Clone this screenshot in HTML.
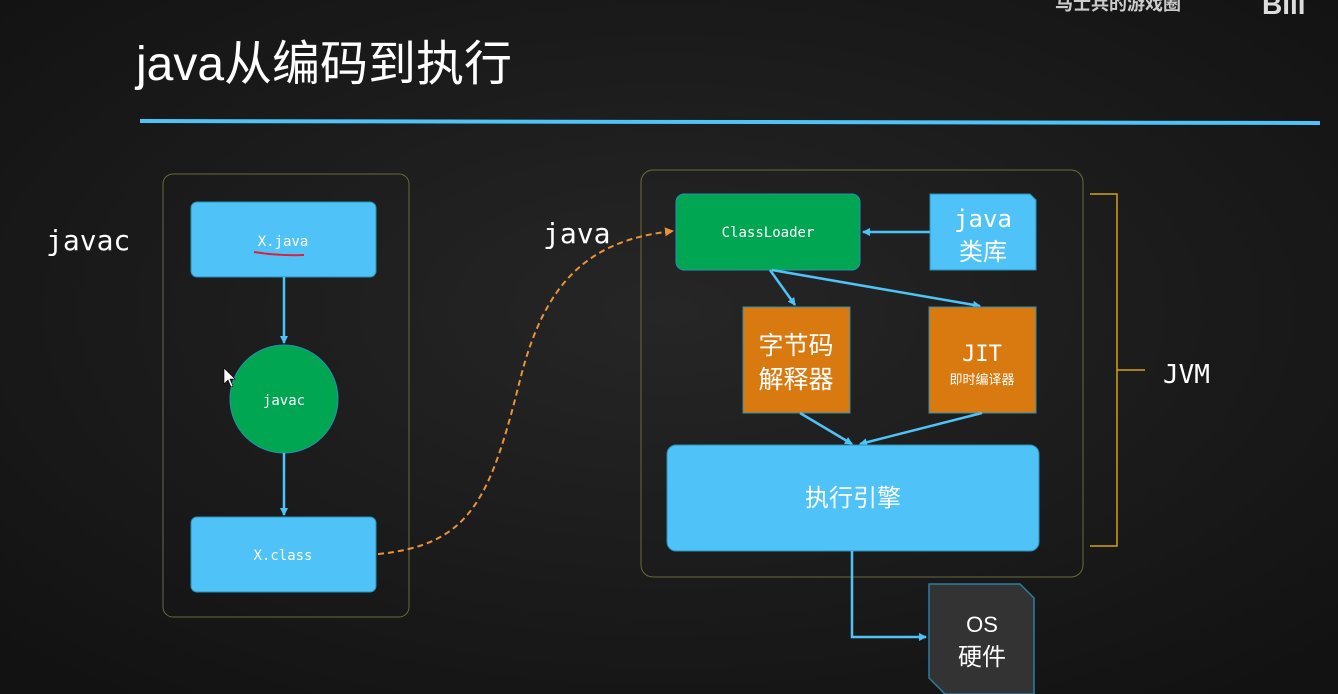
<!DOCTYPE html>
<html><head><meta charset="utf-8"><style>
html,body{margin:0;padding:0;}
body{width:1338px;height:694px;overflow:hidden;background:#1b1b1b;}
svg{display:block}
text{font-family:"Liberation Sans","Noto Sans CJK SC",sans-serif;}
.m{font-family:"DejaVu Sans Mono","Liberation Mono","Noto Sans CJK SC",monospace;}
</style></head><body>
<svg width="1338" height="694" viewBox="0 0 1338 694">
<defs>
<radialGradient id="bg" cx="50%" cy="45%" r="70%"><stop offset="0" stop-color="#262626"/><stop offset="1" stop-color="#121212"/></radialGradient>
<marker id="a" markerWidth="8" markerHeight="8" refX="7" refY="4" orient="auto" markerUnits="userSpaceOnUse"><path d="M0,0 L8,4 L0,8z" fill="#4fc3f7"/></marker>
<marker id="o" markerWidth="9" markerHeight="9" refX="8" refY="4.5" orient="auto" markerUnits="userSpaceOnUse"><path d="M0,0 L9,4.5 L0,9z" fill="#e8933a"/></marker>
</defs>
<rect width="1338" height="694" fill="url(#bg)"/>
<text x="1055" y="10" font-size="18" fill="#ccc" font-weight="bold">马士兵的游戏圈</text>
<text x="1262" y="14" font-size="28" fill="#ddd" font-weight="bold">Bili</text>
<text x="136" y="80" font-size="48" fill="#fff">java从编码到执行</text>
<path d="M140,121 L1320,123" stroke="#4fc3f7" stroke-width="4"/>
<rect x="163" y="174" width="246" height="443" rx="10" fill="none" stroke="#6b6a3a" stroke-width="1"/>
<rect x="641" y="170" width="442" height="407" rx="12" fill="none" stroke="#6b6a3a" stroke-width="1"/>
<text x="46" y="250" class="m" font-size="28" fill="#fff">javac</text>
<text x="543" y="243" class="m" font-size="28" fill="#fff">java</text>
<rect x="191" y="202" width="185" height="75" rx="6" fill="#4fc3f7" stroke="#2a8fb5"/>
<text x="283" y="246" class="m" font-size="14" fill="#fff" text-anchor="middle">X.java</text>
<path d="M254,252 q25,4 50,3" stroke="#e0203a" stroke-width="2" fill="none"/>
<path d="M284,277 L284,343" stroke="#4fc3f7" stroke-width="2.5" marker-end="url(#a)"/>
<circle cx="284" cy="399" r="54" fill="#00a651" stroke="#2a8fb5"/>
<text x="284" y="405" class="m" font-size="14" fill="#fff" text-anchor="middle">javac</text>
<path d="M284,453 L284,515" stroke="#4fc3f7" stroke-width="2.5" marker-end="url(#a)"/>
<rect x="191" y="517" width="185" height="75" rx="6" fill="#4fc3f7" stroke="#2a8fb5"/>
<text x="283" y="560" class="m" font-size="14" fill="#fff" text-anchor="middle">X.class</text>
<path d="M378,554 C470,545 490,500 520,380 C545,280 590,240 673,231" stroke="#e8933a" stroke-width="2" stroke-dasharray="6,4" fill="none" marker-end="url(#o)"/>
<rect x="676" y="194" width="184" height="76" rx="8" fill="#00a651" stroke="#2a8fb5"/>
<text x="768" y="237" class="m" font-size="14" fill="#fff" text-anchor="middle">ClassLoader</text>
<path d="M930,194 L1030,194 L1036,200 L1036,270 L930,270z" fill="#4fc3f7" stroke="#2a8fb5"/>
<text x="983" y="227" class="m" font-size="24" fill="#fff" text-anchor="middle">java</text>
<text x="983" y="260" font-size="24" fill="#fff" text-anchor="middle">类库</text>
<path d="M930,232 L863,232" stroke="#4fc3f7" stroke-width="2.5" marker-end="url(#a)"/>
<path d="M770,270 L795,305" stroke="#4fc3f7" stroke-width="2.5" marker-end="url(#a)"/>
<path d="M772,270 L980,306" stroke="#4fc3f7" stroke-width="2.5" marker-end="url(#a)"/>
<rect x="743" y="307" width="107" height="106" fill="#d97a10" stroke="#2a8fb5"/>
<text x="796" y="354" font-size="25" fill="#fff" text-anchor="middle">字节码</text>
<text x="796" y="388" font-size="25" fill="#fff" text-anchor="middle">解释器</text>
<rect x="929" y="307" width="107" height="106" fill="#d97a10" stroke="#2a8fb5"/>
<text x="982" y="361" class="m" font-size="22" fill="#fff" text-anchor="middle">JIT</text>
<text x="982" y="384" font-size="13" fill="#fff" text-anchor="middle">即时编译器</text>
<path d="M800,413 L852,444" stroke="#4fc3f7" stroke-width="2.5" marker-end="url(#a)"/>
<path d="M982,413 L860,444" stroke="#4fc3f7" stroke-width="2.5" marker-end="url(#a)"/>
<rect x="667" y="445" width="372" height="106" rx="9" fill="#4fc3f7" stroke="#2a8fb5"/>
<text x="853" y="506" font-size="24" fill="#fff" text-anchor="middle">执行引擎</text>
<path d="M852,551 L852,637 L926,637" stroke="#4fc3f7" stroke-width="2.5" fill="none" marker-end="url(#a)"/>
<path d="M929,584 L1020,584 L1034,598 L1034,694 L945,694 L929,678z" fill="#333" stroke="#2a7f9f" stroke-width="1.5"/>
<text x="982" y="632" font-size="22" fill="#fff" text-anchor="middle">OS</text>
<text x="982" y="665" font-size="24" fill="#fff" text-anchor="middle">硬件</text>
<path d="M1090,194 L1117,194 L1117,546 L1090,546 M1117,370 L1145,370" stroke="#d4a017" stroke-width="1.5" fill="none"/>
<text x="1163" y="383" class="m" font-size="26" fill="#fff">JVM</text>
<path d="M224,368 l0,16 l4,-4 l3,7 l2,-1 l-3,-7 l5,0z" fill="#fff" stroke="#000" stroke-width="0.6"/>
</svg>
</body></html>
